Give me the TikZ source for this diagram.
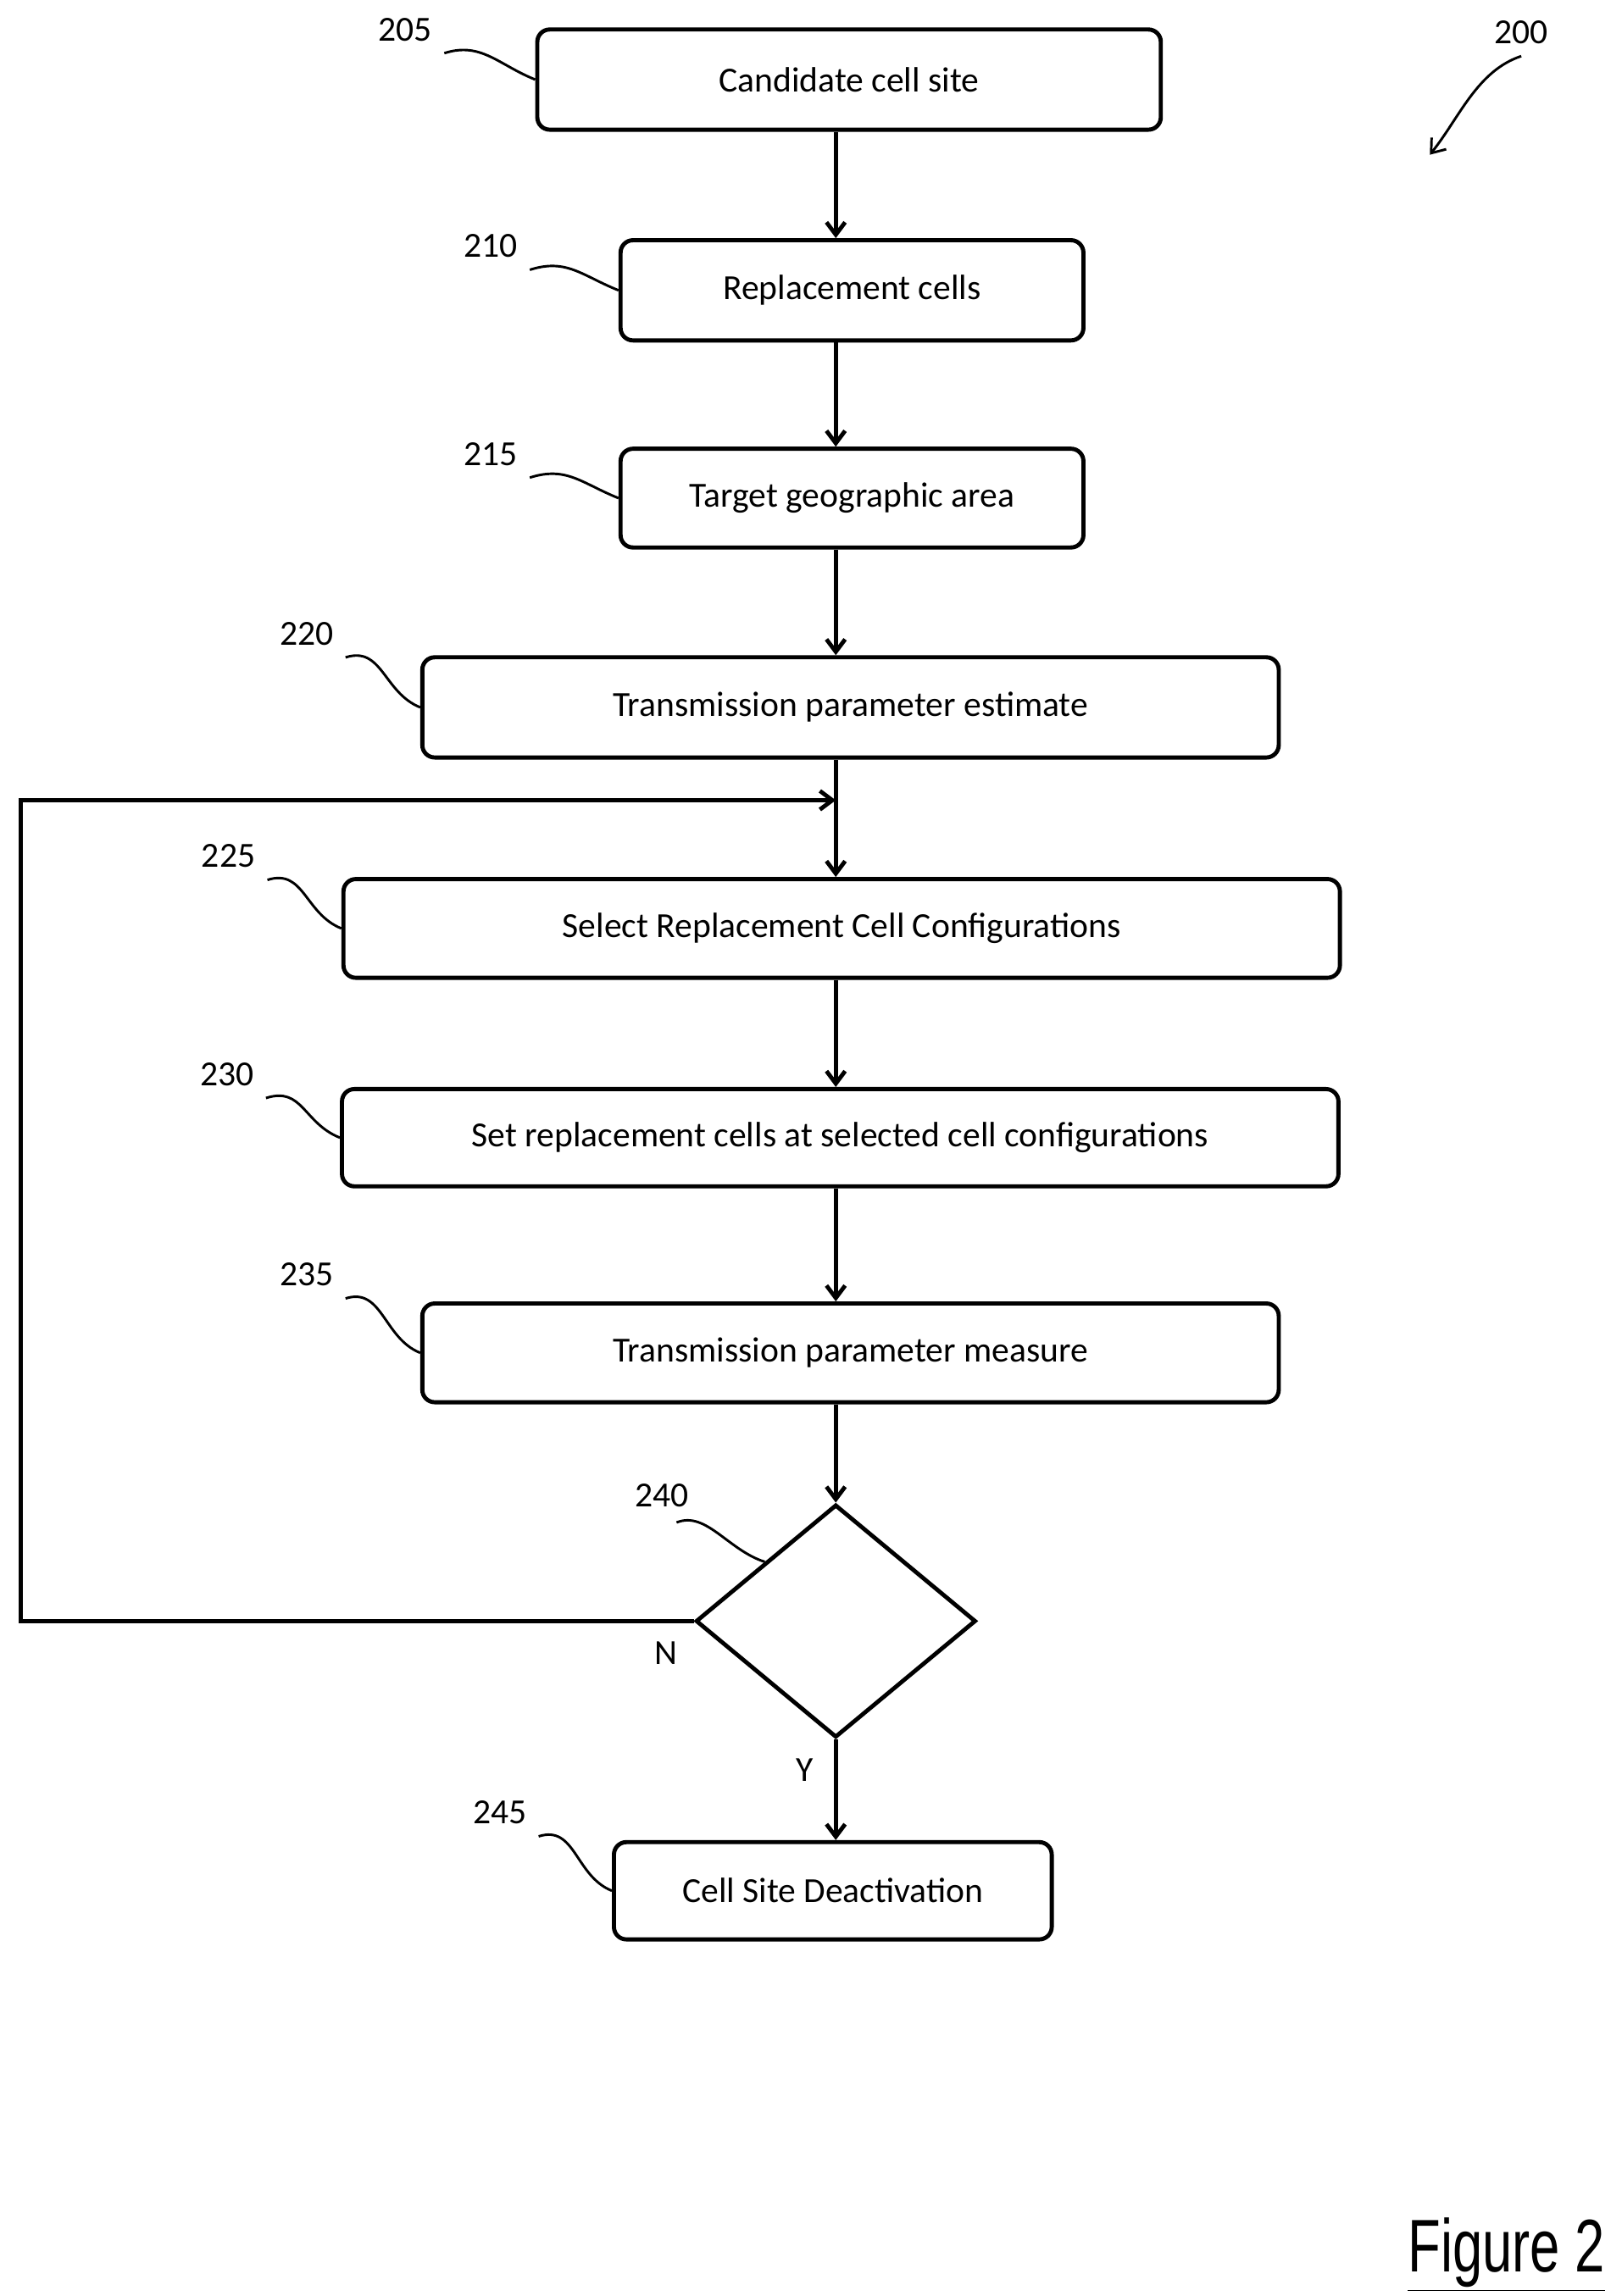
\documentclass[tikz,border=0pt]{standalone}
\usepackage{fontspec}
\setmainfont{Carlito}
\newfontfamily\figfont{Liberation Sans}[FakeStretch=0.72]
\usetikzlibrary{shapes.geometric,arrows.meta}
\tikzset{every picture/.style={font issue=\fontsize{17}{20}},
         font issue/.style={execute at begin picture={#1\selectfont}}
        }
\tikzstyle{block}=[draw,line width=2pt,rounded corners=6pt,align=center,inner sep=0]
\tikzstyle{flow}=[draw,line width=2pt,-{Straight Barb[length=6pt,width=9pt]}]
\tikzstyle{lead}=[draw,line width=1.2pt]

\begin{document}
\begin{tikzpicture}[x=0.025cm,y=-0.025cm]
	\useasboundingbox (0,0) rectangle (1100,1558);
	
	\node[block,minimum width=423*0.025cm,minimum height=68*0.025cm] (cand) at (576,54) {Candidate cell site};
	\node[block,minimum width=314*0.025cm,minimum height=68*0.025cm] (repl) at (578,197) {Replacement cells};
	\node[block,minimum width=314*0.025cm,minimum height=67*0.025cm] (area) at (578,338) {Target geographic area};
	\node[block,minimum width=581*0.025cm,minimum height=68*0.025cm] (est) at (577,480) {Transmission parameter estimate};
	\node[block,minimum width=676*0.025cm,minimum height=67*0.025cm] (sel) at (571,630) {Select Replacement Cell Configurations};
	\node[block,minimum width=676*0.025cm,minimum height=66*0.025cm] (set) at (570,772) {Set replacement cells at selected cell configurations};
	\node[block,minimum width=581*0.025cm,minimum height=67*0.025cm] (meas) at (577,918) {Transmission parameter measure};
	\node[diamond,draw,line width=2pt,minimum width=190*0.025cm,minimum height=158*0.025cm,inner sep=0] (dec) at (567,1100) {};
	\node[block,minimum width=297*0.025cm,minimum height=66*0.025cm] (deact) at (565,1283) {Cell Site Deactivation};
	
	% flow
	\path[flow] (cand.south -| 567,0) -- (repl.north -| 567,0);
	\path[flow] (repl.south -| 567,0) -- (area.north -| 567,0);
	\path[flow] (area.south -| 567,0) -- (est.north -| 567,0);
	\path[flow] (est.south -| 567,0) -- (sel.north -| 567,0);
	\path[flow] (sel.south -| 567,0) -- (set.north -| 567,0);
	\path[flow] (set.south -| 567,0) -- (meas.north -| 567,0);
	\path[flow] (meas.south -| 567,0) -- (dec.north);
	\path[flow] (dec.south) -- node[pos=0.3,left=4pt] {Y} (deact.north -| 567,0);
	\coordinate (loop) at (567,543);
	\path[flow] (dec.west) -- (14,1100) -- (14,543) -- (loop);
	\node (n) at (452,1122) {N};
	
	% reference numerals
	\foreach \lab/\lx/\ly/\nd in {205/275/20/cand,210/333/167/repl,215/333/308/area,
		220/208/430/est,225/155/581/sel,230/154/729/set,235/208/865/meas,245/339/1230/deact}{
		\node (l\lab) at (\lx,\ly) {\lab};
		\path[lead] (l\lab.south east) .. controls +(25,-8) and +(-25,-10) .. (\nd.west);
	}
	\node (l240) at (449,1015) {240};
	\path[lead] (l240.south) ++(10,2) .. controls +(20,-8) and +(-25,-8) .. (dec.north west);
	\node (l200) at (1032,22) {200};
	\coordinate (a200) at (970,105);
	\path[lead,-{Straight Barb[length=6pt,width=9pt]}] (l200.south) .. controls +(-30,10) and +(20,-25) .. (a200);
	
	\node[font=\figfont\fontsize{36}{40}\selectfont] (fig) at (1022,1530) {\underline{Figure 2}};
\end{tikzpicture}
\end{document}
